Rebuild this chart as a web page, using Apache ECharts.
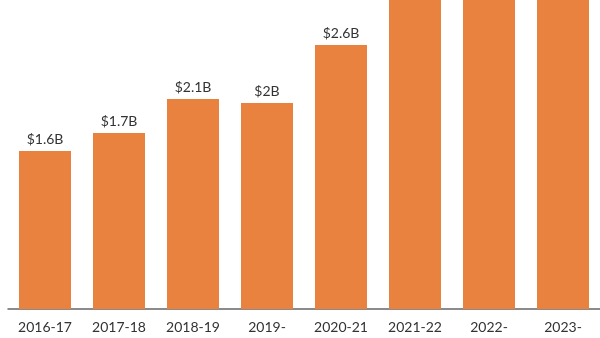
<!DOCTYPE html>
<html><head><meta charset="utf-8">
<script src="https://cdn.jsdelivr.net/npm/echarts@6/dist/echarts.min.js"></script>
<style>html,body{margin:0;padding:0;background:#fff}#c{width:600px;height:338px}</style>
</head><body><div id="c"></div>
<script>
const categories = ["2016-17","2017-18","2018-19","2019-","2020-21","2021-22","2022-","2023-"];
const values = [1.58, 1.76, 2.1, 2.06, 2.64, 3.4, 3.6, 3.8];
const labels = ["$1.6B","$1.7B","$2.1B","$2B","$2.6B","$3.4B","$3.6B","$3.8B"];

const chart = echarts.init(document.getElementById('c'), null, {renderer:'canvas'});
chart.setOption({
  animation:false,
  grid:{left:8, right:-2, top:0, bottom:29, containLabel:false},
  xAxis:{type:'category', data:categories,
    axisLine:{lineStyle:{color:'#666', width:1.5}},
    axisTick:{show:false},
    axisLabel:{color:'#333', fontSize:14, fontFamily:'Lato', margin:11, interval:0}},
  yAxis:{type:'value', min:0, max:3.09, show:false, splitLine:{show:false}},
  series:[{type:'bar', data:values, barWidth:52, clip:false,
    itemStyle:{color:'#E8823E'},
    label:{show:true, position:'top', distance:5, color:'#333', fontSize:14, fontFamily:'Lato',
      formatter:p=>labels[p.dataIndex]}}]
});
</script></body></html>
